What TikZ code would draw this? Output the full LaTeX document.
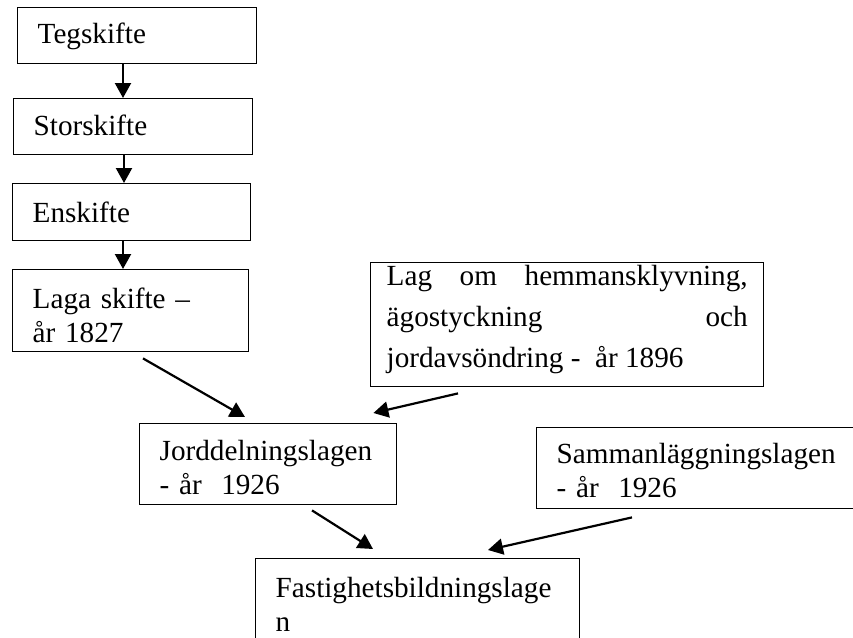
\documentclass[tikz,border=0pt]{standalone}
\usepackage{fontspec}
\setmainfont{Liberation Serif}
\usetikzlibrary{arrows.meta}
\hyphenpenalty=10000

\begin{document}
\begin{tikzpicture}[
  x=0.5pt, y=-0.5pt,
  font=\fontsize{14.6}{17}\selectfont,
  box/.style={draw, line width=0.7pt, anchor=north west, align=left, inner xsep=10pt, inner ysep=0pt},
  arr/.style={-{Triangle[length=7.5pt,width=8pt]}, line width=1.1pt}
]
\useasboundingbox (0,0) rectangle (853,638);
\node[box, text width=99.5pt, text height=18pt, text depth=10pt] (teg) at (17,7) {Tegskifte};
\node[box, text width=99.5pt, text height=18.5pt, text depth=9.5pt] (stor) at (13,98) {Storskifte};
\node[box, text width=99pt, text height=19.5pt, text depth=9pt] (ens) at (12,183) {Enskifte};
\node[box, text width=98pt, text height=19.5pt, text depth=21.5pt] (laga) at (12,269) {Laga skifte --\\år 1827};
\node[box, inner xsep=8pt, text width=180.5pt, text height=11.5pt, text depth=50.5pt, align=justify,
  font=\fontsize{14.6}{20.5}\selectfont] (hemman) at (370,262)
  {Lag om hemmansklyvning,\linebreak ägostyckning och\linebreak jordavsöndring - \ år 1896};
\node[box, text width=108.5pt, text height=18.5pt, text depth=22pt] (jord) at (139,423) {Jorddelningslagen\\- år \ 1926};
\node[box, text width=152pt, text height=18pt, text depth=22.5pt] (samm) at (536,427) {Sammanläggningslagen\\- år \ 1926};
\node[box, text width=142pt, text height=19.5pt, text depth=40pt] (fast) at (255,558) {Fastighetsbildningslage\\n};
% pilar
\draw[arr] ([xshift=53pt]teg.south west) -- ([xshift=55pt]stor.north west);
\draw[arr] ([xshift=55.5pt]stor.south west) -- ([xshift=56pt]ens.north west);
\draw[arr] ([xshift=55.5pt]ens.south west) -- ([xshift=55.5pt]laga.north west);
\draw[arr] ([xshift=65.5pt,yshift=-3pt]laga.south west) -- ([xshift=53pt,yshift=3pt]jord.north west);
\draw[arr] ([xshift=44pt,yshift=-3pt]hemman.south west) -- ([xshift=-12pt,yshift=5pt]jord.north east);
\draw[arr] ([xshift=86.5pt,yshift=-2.5pt]jord.south west) -- ([xshift=59pt,yshift=4.5pt]fast.north west);
\draw[arr] ([xshift=48pt,yshift=-4pt]samm.south west) -- ([xshift=116.5pt,yshift=4pt]fast.north west);
\end{tikzpicture}
\end{document}
